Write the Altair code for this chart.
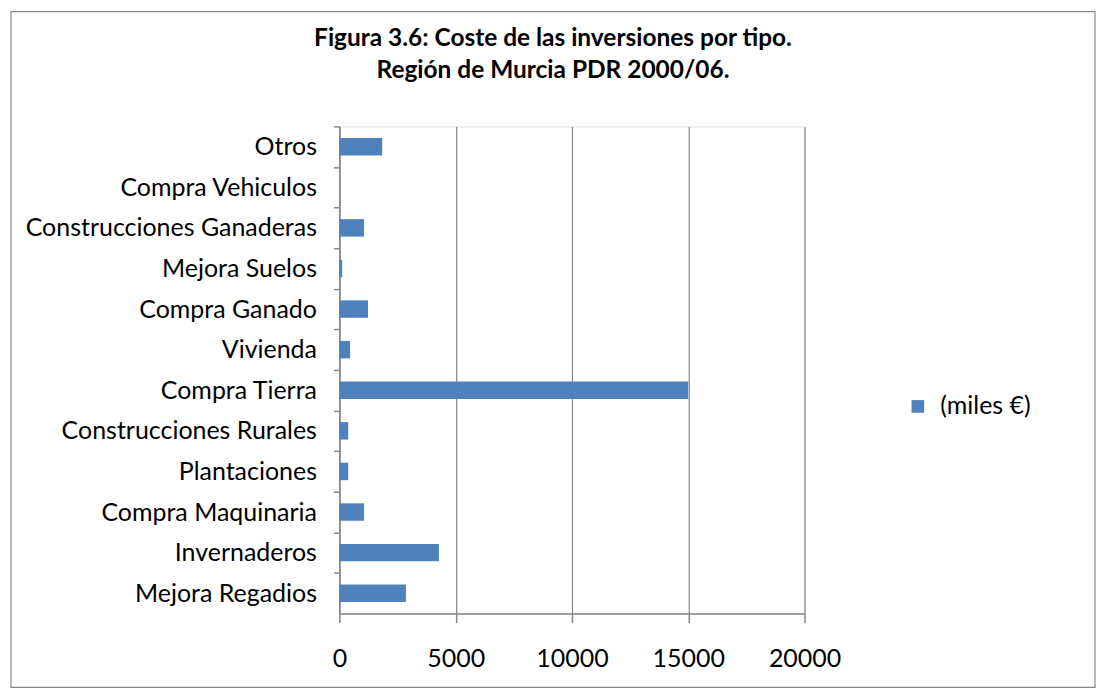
import altair as alt
import pandas as pd

categories = [
    "Otros",
    "Compra Vehiculos",
    "Construcciones Ganaderas",
    "Mejora Suelos",
    "Compra Ganado",
    "Vivienda",
    "Compra Tierra",
    "Construcciones Rurales",
    "Plantaciones",
    "Compra Maquinaria",
    "Invernaderos",
    "Mejora Regadios",
]
values = [1840, 0, 1060, 120, 1230, 460, 15000, 380, 380, 1060, 4280, 2860]
series_name = "(miles €)"
x_ticks = [0, 5000, 10000, 15000, 20000]
title_lines = ["Figura 3.6: Coste de las inversiones por tipo.", "Región de Murcia PDR 2000/06."]

df = pd.DataFrame({"categoria": categories, "valor": values, "serie": series_name})

FONT = "Lato"
GRAY = "#868686"
W, H = 466, 488
step = H / len(categories)
LBL = 25

bars = alt.Chart(df).mark_bar(color="#4f81bd").encode(
    x=alt.X(
        "valor:Q",
        scale=alt.Scale(domain=[0, 20000], nice=False),
        axis=alt.Axis(
            values=x_ticks,
            format="d",
            title=None,
            grid=True,
            gridColor=GRAY,
            gridWidth=1.2,
            domainColor=GRAY,
            domainWidth=1.5,
            tickColor=GRAY,
            tickWidth=1.5,
            tickSize=9,
            labelFont=FONT,
            labelFontSize=LBL,
            labelColor="#000000",
            labelPadding=24,
            labelFlush=False,
            labelOverlap=False,
        ),
    ),
    y=alt.Y(
        "categoria:N",
        sort=categories,
        scale=alt.Scale(paddingInner=0.57, paddingOuter=0.285),
        axis=alt.Axis(
            title=None,
            domainColor=GRAY,
            domainWidth=1.5,
            tickColor=GRAY,
            tickWidth=1.5,
            tickSize=6,
            tickOffset=-step / 2,
            labelOffset=step / 2,
            labelFont=FONT,
            labelFontSize=LBL,
            labelColor="#000000",
            labelPadding=17,
            labelLimit=500,
        ),
    ),
    color=alt.Color(
        "serie:N",
        scale=alt.Scale(range=["#4f81bd"]),
        legend=alt.Legend(
            title=None,
            orient="none",
            legendX=567,
            legendY=268,
            symbolType="square",
            symbolSize=160,
            symbolStrokeWidth=0,
            labelFont=FONT,
            labelFontSize=LBL,
            labelColor="#000000",
            labelOffset=10,
            labelLimit=300,
        ),
    ),
)

border = alt.Chart(alt.Data(values=[{}])).mark_rect(
    fill="transparent", stroke=GRAY, strokeWidth=1.2
).encode(
    x=alt.value(-329),
    x2=alt.value(757),
    y=alt.value(-115),
    y2=alt.value(562),
)

title_df = pd.DataFrame({"line": title_lines, "idx": [0, 1]})
title = alt.Chart(title_df).mark_text(
    font=FONT, fontSize=24.5, fontWeight="bold", color="#000000",
    align="center", baseline="middle",
).encode(
    text="line:N",
    x=alt.value(214),
    y=alt.Y("idx:Q", scale=alt.Scale(domain=[0, 1], range=[-88, -55]), axis=None),
)

chart = alt.layer(border, bars, title).resolve_scale(y="independent").properties(
    width=W,
    height=H,
    padding=2,
).configure_view(stroke=None).configure(background="white")

chart.save("out.html", embed_options={"renderer": "svg", "actions": False})
